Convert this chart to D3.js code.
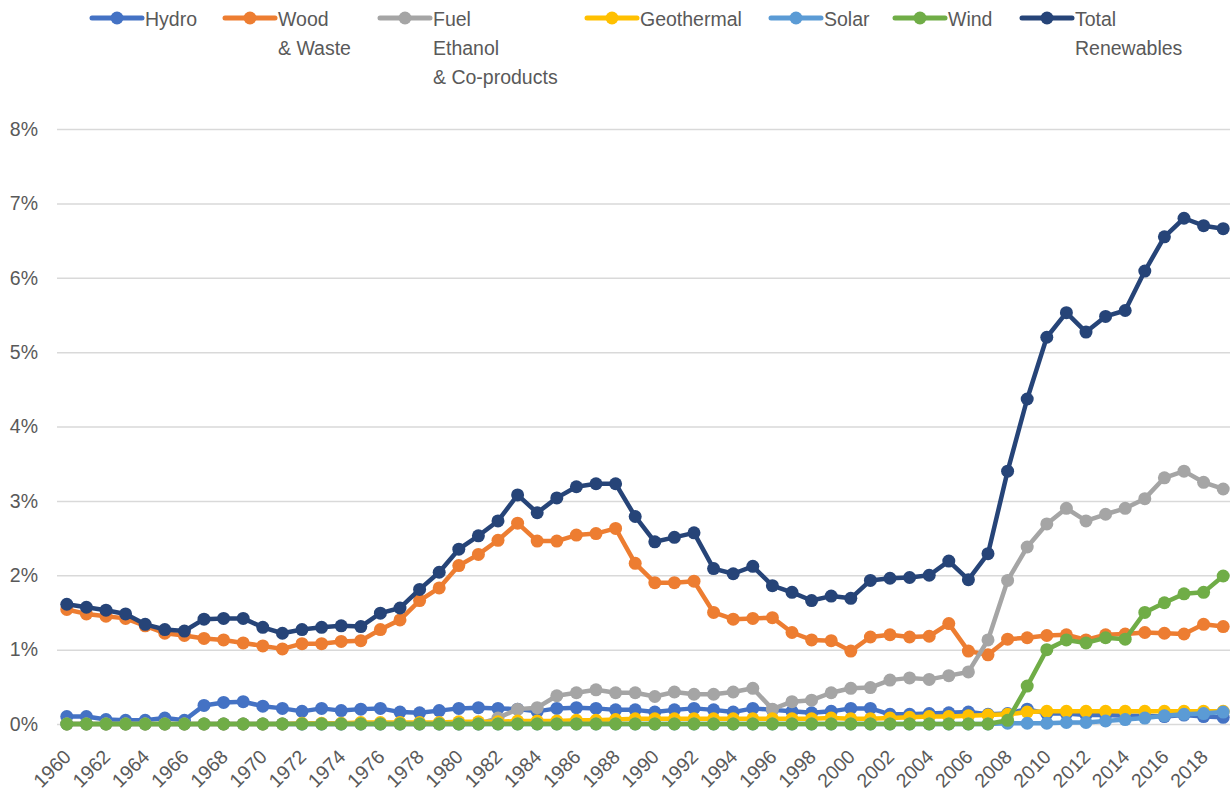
<!DOCTYPE html>
<html>
<head>
<meta charset="utf-8">
<script src="https://cdn.jsdelivr.net/npm/d3@7"></script>
<style>
  html, body { margin: 0; padding: 0; background: #fff; }
  svg { display: block; font-family: "Liberation Sans", Arial, sans-serif; }
</style>
</head>
<body>
<svg id="chart" width="1230" height="810"></svg>
<script>
const years = [1960,1961,1962,1963,1964,1965,1966,1967,1968,1969,
  1970,1971,1972,1973,1974,1975,1976,1977,1978,1979,
  1980,1981,1982,1983,1984,1985,1986,1987,1988,1989,
  1990,1991,1992,1993,1994,1995,1996,1997,1998,1999,
  2000,2001,2002,2003,2004,2005,2006,2007,2008,2009,
  2010,2011,2012,2013,2014,2015,2016,2017,2018,2019];

const hydro = [0.10,0.10,0.06,0.05,0.05,0.08,0.05,0.25,0.29,0.30,
  0.24,0.21,0.17,0.21,0.18,0.20,0.21,0.16,0.15,0.18,
  0.21,0.22,0.21,0.20,0.17,0.21,0.22,0.21,0.19,0.19,
  0.16,0.19,0.21,0.19,0.16,0.21,0.19,0.17,0.15,0.17,
  0.21,0.21,0.13,0.13,0.14,0.15,0.16,0.13,0.14,0.20,
  0.14,0.14,0.12,0.12,0.11,0.11,0.10,0.12,0.10,0.09];

const wood = [1.54,1.48,1.45,1.42,1.32,1.22,1.19,1.15,1.13,1.09,
  1.05,1.01,1.08,1.08,1.11,1.12,1.27,1.40,1.66,1.83,
  2.13,2.28,2.47,2.70,2.46,2.46,2.54,2.56,2.63,2.16,
  1.90,1.90,1.92,1.50,1.41,1.42,1.43,1.23,1.13,1.12,
  0.98,1.17,1.20,1.17,1.18,1.35,0.98,0.93,1.14,1.16,
  1.19,1.20,1.13,1.20,1.21,1.23,1.22,1.21,1.34,1.31];

const fuelEthanol = [0,0,0,0,0,0,0,0,0,0,
  0,0,0,0,0,0,0,0,0,0,
  0,0,0.08,0.20,0.22,0.38,0.42,0.46,0.42,0.42,
  0.37,0.43,0.40,0.40,0.43,0.48,0.20,0.30,0.32,0.42,
  0.48,0.49,0.59,0.62,0.60,0.65,0.70,1.13,1.93,2.38,
  2.69,2.90,2.73,2.82,2.90,3.03,3.31,3.40,3.25,3.16];

const geothermal = [0,0,0,0,0,0,0,0,0,0,
  0,0,0.01,0.01,0.01,0.02,0.02,0.02,0.02,0.02,
  0.03,0.03,0.03,0.04,0.04,0.04,0.05,0.05,0.06,0.07,
  0.07,0.07,0.07,0.07,0.07,0.07,0.07,0.07,0.07,0.08,
  0.07,0.07,0.08,0.09,0.10,0.10,0.11,0.12,0.13,0.16,
  0.17,0.17,0.17,0.17,0.17,0.17,0.17,0.17,0.17,0.17];

const solar = [0,0,0,0,0,0,0,0,0,0,
  0,0,0,0,0,0,0,0,0,0,
  0,0,0,0,0,0,0,0,0,0,
  0,0,0,0,0,0,0,0,0,0,
  0,0,0,0,0,0,0,0,0.01,0.01,
  0.01,0.02,0.02,0.04,0.06,0.08,0.11,0.13,0.14,0.16];

const wind = [0,0,0,0,0,0,0,0,0,0,
  0,0,0,0,0,0,0,0,0,0,
  0,0,0,0,0,0,0,0,0,0,
  0,0,0,0,0,0,0,0,0,0,
  0,0,0,0,0,0,0,0,0.05,0.51,
  1.00,1.13,1.09,1.16,1.14,1.50,1.63,1.75,1.77,1.99];

const totalRenewables = [1.61,1.57,1.53,1.48,1.34,1.27,1.25,1.41,1.42,1.42,
  1.30,1.22,1.27,1.30,1.32,1.31,1.49,1.56,1.81,2.04,
  2.35,2.53,2.73,3.08,2.84,3.04,3.19,3.23,3.23,2.79,
  2.45,2.51,2.57,2.09,2.02,2.12,1.86,1.77,1.66,1.72,
  1.69,1.93,1.96,1.97,2.00,2.19,1.94,2.29,3.40,4.37,
  5.20,5.53,5.27,5.48,5.56,6.09,6.55,6.80,6.70,6.66];

const yTicks = [0,1,2,3,4,5,6,7,8];
const xTickYears = [1960,1962,1964,1966,1968,1970,1972,1974,1976,1978,1980,1982,1984,1986,1988,
  1990,1992,1994,1996,1998,2000,2002,2004,2006,2008,2010,2012,2014,2016,2018];

const seriesNames = ["Hydro", "Wood\n& Waste", "Fuel\nEthanol\n& Co-products", "Geothermal", "Solar", "Wind", "Total\nRenewables"];
const seriesColors = ["#4472C4", "#ED7D31", "#A5A5A5", "#FFC000", "#5B9BD5", "#70AD47", "#264478"];
const seriesValues = [hydro, wood, fuelEthanol, geothermal, solar, wind, totalRenewables];

(function () {
const svg = d3.select("#chart");
const plotLeft = 57, plotRight = 1233, plotTop = 129, plotBottom = 724;

const x = d3.scalePoint().domain(years).range([plotLeft, plotRight]).padding(0.5);
const y = d3.scaleLinear().domain([0, 8]).range([plotBottom, plotTop]);

// Y axis with gridlines
const yAxis = svg.append("g")
  .attr("transform", `translate(${plotLeft},0)`)
  .call(d3.axisLeft(y).tickValues(yTicks).tickFormat(d => d + "%").tickSize(-(plotRight - plotLeft)).tickPadding(19));
yAxis.select(".domain").remove();
yAxis.selectAll(".tick line").attr("stroke", "#d9d9d9").attr("stroke-width", 1.5);
yAxis.selectAll(".tick text").attr("fill", "#595959").style("font-size", "19.5px")
  .style("font-family", '"Liberation Sans", Arial, sans-serif');

// X axis labels (rotated)
const xAxis = svg.append("g")
  .attr("transform", `translate(0,${plotBottom})`)
  .call(d3.axisBottom(x).tickValues(xTickYears).tickSize(0).tickPadding(0));
xAxis.select(".domain").remove();
xAxis.selectAll(".tick text")
  .attr("fill", "#595959")
  .style("font-size", "19.5px")
  .style("font-family", '"Liberation Sans", Arial, sans-serif')
  .attr("text-anchor", "end")
  .attr("dy", "0")
  .attr("y", 0)
  .attr("transform", "translate(5,34) rotate(-45)");

// Series lines and markers
const line = d3.line().x((d, i) => x(years[i])).y(d => y(d));
seriesValues.forEach((vals, si) => {
  const g = svg.append("g");
  g.append("path")
    .datum(vals)
    .attr("fill", "none")
    .attr("stroke", seriesColors[si])
    .attr("stroke-width", 4.5)
    .attr("stroke-linejoin", "round")
    .attr("d", line);
  g.selectAll("circle")
    .data(vals)
    .join("circle")
    .attr("cx", (d, i) => x(years[i]))
    .attr("cy", d => y(d))
    .attr("r", 6.5)
    .attr("fill", seriesColors[si]);
});

// Legend
const legendX = [92, 225, 380, 587, 771, 895, 1022];
const legend = svg.append("g");
seriesNames.forEach((name, i) => {
  const lx = legendX[i];
  const g = legend.append("g");
  g.append("line").attr("x1", lx).attr("x2", lx + 50).attr("y1", 18).attr("y2", 18)
    .attr("stroke", seriesColors[i]).attr("stroke-width", 5).attr("stroke-linecap", "round");
  g.append("circle").attr("cx", lx + 25).attr("cy", 18).attr("r", 6.5).attr("fill", seriesColors[i]);
  const t = g.append("text").attr("x", lx + 53).attr("y", 26)
    .attr("fill", "#595959").style("font-size", "19.5px");
  name.split("\n").forEach((part, k) => {
    t.append("tspan").attr("x", lx + 53).attr("y", 26 + k * 29).text(part);
  });
});
})();
</script>
</body>
</html>
